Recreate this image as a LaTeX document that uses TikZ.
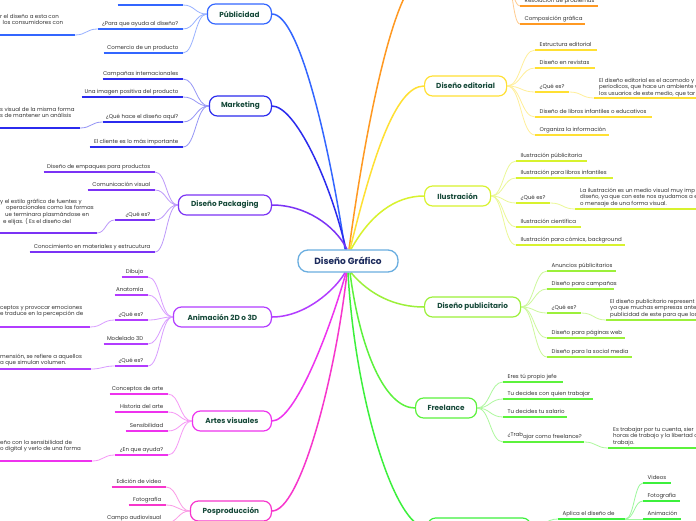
\documentclass[tikz,border=0pt]{standalone}
\usepackage{fontspec}
\setmainfont{Poppins}
\usetikzlibrary{calc,backgrounds}
\definecolor{cpub}{HTML}{3366FF}
\definecolor{cmkt}{HTML}{2B2BEE}
\definecolor{cpak}{HTML}{7B33F5}
\definecolor{cani}{HTML}{B23CFF}
\definecolor{cart}{HTML}{EE33EE}
\definecolor{cpos}{HTML}{F736CC}
\definecolor{cora}{HTML}{FF9922}
\definecolor{cedi}{HTML}{FFE033}
\definecolor{cilu}{HTML}{D8F22E}
\definecolor{cpbl}{HTML}{9CF03A}
\definecolor{cfre}{HTML}{5CF23C}
\definecolor{cbot}{HTML}{3CF03C}
\definecolor{ccen}{HTML}{6AAEE0}
\definecolor{mtxt}{HTML}{174A3A}
\definecolor{ctxt}{HTML}{1B2A5C}
\definecolor{ltxt}{HTML}{333333}
\newcommand\lffont{\fontsize{5.5}{6.5}\selectfont}
\newcommand\mnfont{\fontsize{7.3}{8}\selectfont\bfseries}
\newcommand\cnfont{\fontsize{9}{10}\selectfont\bfseries}
\newcommand\rtx[2]{\makebox[#1pt][r]{#2\hspace*{4.5pt}}}
\newcommand\ltx[2]{\makebox[#1pt][l]{\hspace*{4.5pt}#2}}
\newcommand\ltext[1]{\begin{tabular}[t]{@{}l@{}}#1\end{tabular}}
\begin{document}
\begin{tikzpicture}[x=1pt,y=-1pt,
  mn/.style={draw=#1, line width=1.2pt, fill=white, rounded corners=8pt, minimum height=20pt, inner xsep=2pt, font=\mnfont, text=mtxt},
  cn/.style={draw=ccen, line width=1.3pt, fill=white, rounded corners=10pt, minimum height=22pt, minimum width=100pt, font=\cnfont, text=ctxt},
  leaf/.style={font=\lffont, text=ltxt, inner xsep=0pt, inner ysep=2.3pt, text height=4.2pt, text depth=1.4pt,
    append after command={(\tikzlastnode.south west) edge[draw=#1, line width=2pt] (\tikzlastnode.south east)}},
  lt/.style={font=\lffont, text=ltxt, inner sep=0pt, anchor=base west},
  hc/.style={to path={let \p1=(\tikztostart), \p2=(\tikztotarget) in .. controls ({(\x1+\x2)/2},\y1) and ({(\x1+\x2)/2},\y2) .. (\tikztotarget)}},
  lk/.style={draw=#1!50!white, line width=0.8pt, hc},
  mc/.style={draw=#1, line width=1.5pt}]
\useasboundingbox (0,0) rectangle (696,520);

% central
\node[cn] (c) at (348,261) {Diseño Gráfico};

% main nodes
\node[mn=cpub, anchor=east, minimum width=64pt] (pub) at (272,14) {Públicidad};
\node[mn=cmkt, anchor=east, minimum width=62pt] (mkt) at (272,106) {Marketing};
\node[mn=cpak, anchor=east, minimum width=93pt] (pak) at (272,205) {Diseño Packaging};
\node[mn=cani, anchor=east, minimum width=98pt] (ani) at (272,317) {Animación 2D o 3D};
\node[mn=cart, anchor=east, minimum width=79pt] (art) at (272,421) {Artes visuales};
\node[mn=cpos, anchor=east, minimum width=81pt] (pos) at (272,511) {Posproducción};
\node[mn=cedi, anchor=west, minimum width=82pt] (edi) at (424,86) {Diseño editorial};
\node[mn=cilu, anchor=west, minimum width=66pt] (ilu) at (424,196) {Ilustración};
\node[mn=cpbl, anchor=west, minimum width=96pt] (pbl) at (424,307) {Diseño publicitario};
\node[mn=cfre, anchor=west, minimum width=61pt] (fre) at (415,408) {Freelance};
\node[mn=cbot, anchor=west, minimum width=103pt] (bot) at (427,528) {};
\coordinate (orw) at (424,-24);
\coordinate (ore) at (505,-24);

% Publicidad
\node[leaf=cpub, anchor=south east] (p1) at (183,5) {\rtx{65}{}};
\node[leaf=cpub, anchor=south east] (p2) at (183,29) {\rtx{85}{¿Para que ayuda al diseño?}};
\node[leaf=cpub, anchor=south east] (p2x) at (75,35) {\rtx{95}{}};
\node[lt] (p2t) at (0,18) {\ltext{r el diseño a esta con\\\hspace*{2.5pt}los consumidores con}};
\node[leaf=cpub, anchor=south east] (p3) at (183,53) {\rtx{79}{Comercio de un producto}};
% Marketing
\node[leaf=cmkt, anchor=south east] (m1) at (183,79) {\rtx{80}{Campañas internacionales}};
\node[leaf=cmkt, anchor=south east] (m2) at (183,97) {\rtx{101}{Una imagen positiva del producto}};
\node[leaf=cmkt, anchor=south east] (m3) at (183,122) {\rtx{80}{¿Qué hace el diseño aquí?}};
\node[leaf=cmkt, anchor=south east] (m3x) at (80,128) {\rtx{100}{}};
\node[lt] (m3t) at (0,111) {\ltext{s visual de la misma forma\\s de mantener un análisis}};
\node[leaf=cmkt, anchor=south east] (m4) at (183,147) {\rtx{93}{El cliente es lo más importante}};
% Packaging
\node[leaf=cpak, anchor=south east] (k1) at (155,172) {\rtx{111}{Diseño de empaques para productos}};
\node[leaf=cpak, anchor=south east] (k2) at (155,190) {\rtx{67}{Comunicación visual}};
\node[leaf=cpak, anchor=south east] (k3) at (155,220) {\rtx{40}{¿Qué es?}};
\node[leaf=cpak, anchor=south east] (k3x) at (97,233) {\rtx{117}{}};
\node[lt] (k3t) at (0,203) {\ltext{y el estilo gráfico de fuentes y\\\hspace*{6pt}operacionales como las formas\\\hspace*{5pt}ue terminara plasmándose en\\\hspace*{3pt}e elijas. ( Es el diseño del}};
\node[leaf=cpak, anchor=south east] (k4) at (155,252) {\rtx{125}{Conocimiento en materiales y estrucutura}};
% Animacion
\node[leaf=cani, anchor=south east] (a1) at (148,277) {\rtx{26}{Dibujo}};
\node[leaf=cani, anchor=south east] (a2) at (148,295) {\rtx{33}{Anatomía}};
\node[leaf=cani, anchor=south east] (a3) at (148,320) {\rtx{33}{¿Qué es?}};
\node[leaf=cani, anchor=south east] (a3x) at (90,327) {\rtx{110}{}};
\node[lt] (a3t) at (0,309) {\ltext{ceptos y provocar emociones\\e traduce en la percepción de}};
\node[leaf=cani, anchor=south east] (a4) at (148,344) {\rtx{44}{Modelado 3D}};
\node[leaf=cani, anchor=south east] (a5) at (148,366) {\rtx{33}{¿Qué es?}};
\node[leaf=cani, anchor=south east] (a5x) at (91,369) {\rtx{111}{}};
\node[lt] (a5t) at (0,358) {\ltext{mensión, se refiere a aquellos\\a que simulan volumen.}};
% Artes visuales
\node[leaf=cart, anchor=south east] (r1) at (168,394) {\rtx{58}{Conceptos de arte}};
\node[leaf=cart, anchor=south east] (r2) at (168,412) {\rtx{53}{Historia del arte}};
\node[leaf=cart, anchor=south east] (r3) at (168,431) {\rtx{42}{Sensibilidad}};
\node[leaf=cart, anchor=south east] (r4) at (168,455) {\rtx{53}{¿En que ayuda?}};
\node[leaf=cart, anchor=south east] (r4x) at (92,461) {\rtx{112}{}};
\node[lt] (r4t) at (0,444) {\ltext{eño con la sensibilidad de\\o digital y verlo de una forma}};
% Posproduccion
\node[leaf=cpos, anchor=south east] (s1) at (166,487) {\rtx{54}{Edición de video}};
\node[leaf=cpos, anchor=south east] (s2) at (166,505) {\rtx{37}{Fotografía}};
\node[leaf=cpos, anchor=south east] (s3) at (166,523) {\rtx{60}{Campo audiovisual}};

% orange
\node[leaf=cora, anchor=south west] (o1) at (520,6) {\ltx{78}{Resolución de problemas}};
\node[leaf=cora, anchor=south west] (o2) at (520,24) {\ltx{65}{Composición gráfica}};
% editorial
\node[leaf=cedi, anchor=south west] (e1) at (535,50) {\ltx{62}{Estructura editorial}};
\node[leaf=cedi, anchor=south west] (e2) at (535,68) {\ltx{60}{Diseño en revistas}};
\node[leaf=cedi, anchor=south west] (e3) at (535,92) {\ltx{34}{¿Qué es?}};
\node[leaf=cedi, anchor=south west] (e3x) at (594,98) {\ltx{126}{}};
\node[lt] (e3t) at (599,82) {\ltext{El diseño editorial es el acomodo y\\periodicos, que hace un ambiente v\\los usuarios de este medio, que tar}};
\node[leaf=cedi, anchor=south west] (e4) at (535,117) {\ltx{117}{Diseño de libros infantiles o educativos}};
\node[leaf=cedi, anchor=south west] (e5) at (535,135) {\ltx{74}{Organiza la información}};
% ilustracion
\node[leaf=cilu, anchor=south west] (i1) at (516,161) {\ltx{71}{Ilustración públicitaria}};
\node[leaf=cilu, anchor=south west] (i2) at (516,178) {\ltx{97}{Ilustración para libros infantiles}};
\node[leaf=cilu, anchor=south west] (i3) at (516,203) {\ltx{34}{¿Qué es?}};
\node[leaf=cilu, anchor=south west] (i3x) at (575,209) {\ltx{145}{}};
\node[lt] (i3t) at (580,192) {\ltext{La ilustración es un medio visual muy imp\\diseño, ya que con este nos ayudamos a e\\o mensaje de una forma visual.}};
\node[leaf=cilu, anchor=south west] (i4) at (516,227) {\ltx{65}{Ilustración científica}};
\node[leaf=cilu, anchor=south west] (i5) at (516,245) {\ltx{109}{Ilustración para cómics, background}};
% publicitario
\node[leaf=cpbl, anchor=south west] (u1) at (547,271) {\ltx{69}{Anuncios públicitarios}};
\node[leaf=cpbl, anchor=south west] (u2) at (547,289) {\ltx{67}{Diseño para campañas}};
\node[leaf=cpbl, anchor=south west] (u3) at (547,313) {\ltx{34}{¿Qué es?}};
\node[leaf=cpbl, anchor=south west] (u3x) at (606,320) {\ltx{114}{}};
\node[lt] (u3t) at (610,303) {\ltext{El diseño publicitario represent\\ya que muchas empresas antes\\publicidad de este para que los}};
\node[leaf=cpbl, anchor=south west] (u4) at (547,338) {\ltx{78}{Diseño para páginas web}};
\node[leaf=cpbl, anchor=south west] (u5) at (547,357) {\ltx{85}{Diseño para la social media}};
% freelance
\node[leaf=cfre, anchor=south west] (f1) at (503,382) {\ltx{60}{Eres tú propio jefe}};
\node[leaf=cfre, anchor=south west] (f2) at (503,399) {\ltx{90}{Tu decides con quien trabajar}};
\node[leaf=cfre, anchor=south west] (f3) at (503,417) {\ltx{64}{Tu decides tu salario}};
\node[leaf=cfre, anchor=south west] (f4) at (503,442) {\ltx{81}{\raisebox{1.5pt}{¿Trab}ajar como freelance?}};
\node[leaf=cfre, anchor=south west] (f4x) at (608,448) {\ltx{112}{}};
\node[lt] (f4t) at (613,431) {\ltext{Es trabajar por tu cuenta, sier\\horas de trabajo y la libertad c\\trabajo.}};
% bottom
\node[leaf=cbot, anchor=south west] (b1) at (558,519) {\ltx{67}{Aplica el diseño de}};
\node[leaf=cbot, anchor=south west] (b1a) at (643,483) {\ltx{28}{Videos}};
\node[leaf=cbot, anchor=south west] (b1b) at (643,501) {\ltx{37}{Fotografía}};
\node[leaf=cbot, anchor=south west] (b1c) at (643,519) {\ltx{38}{Animación}};

\begin{pgfonlayer}{background}
\fill[white] (0,0) rectangle (696,520);
% main connectors
\draw[mc=cpub] (pub.east) .. controls (300,14) and (330,150) .. ([xshift=-3pt]c.north);
\draw[mc=cmkt] (mkt.east) .. controls (295,106) and (330,180) .. ([xshift=-2pt]c.north);
\draw[mc=cpak] (pak.east) .. controls (305,205) and (335,225) .. ([xshift=-1pt]c.north);
\draw[mc=cora] ([xshift=1pt]c.north) .. controls (365,130) and (395,-24) .. (orw);
\draw[mc=cedi] ([xshift=2pt]c.north) .. controls (372,160) and (395,86) .. (edi.west);
\draw[mc=cilu] ([xshift=3pt]c.north) .. controls (370,215) and (395,196) .. (ilu.west);
\draw[mc=cani] (ani.east) .. controls (305,317) and (335,290) .. ([xshift=-3pt]c.south);
\draw[mc=cart] (art.east) .. controls (295,421) and (330,330) .. ([xshift=-2pt]c.south);
\draw[mc=cpos] (pos.east) .. controls (300,511) and (335,380) .. ([xshift=-1pt]c.south);
\draw[mc=cbot] (c.south) .. controls (355,400) and (395,528) .. (bot.west);
\draw[mc=cfre] ([xshift=2pt]c.south) .. controls (360,350) and (385,408) .. (fre.west);
\draw[mc=cpbl] ([xshift=3pt]c.south) .. controls (370,295) and (395,307) .. (pbl.west);
% leaf connectors left
\foreach \l in {p1,p2,p3} \draw[lk=cpub] (pub.west) to (\l.south east);
\draw[lk=cpub] (p2.south west) to (p2x.south east);
\foreach \l in {m1,m2,m3,m4} \draw[lk=cmkt] (mkt.west) to (\l.south east);
\draw[lk=cmkt] (m3.south west) to (m3x.south east);
\foreach \l in {k1,k2,k3,k4} \draw[lk=cpak] (pak.west) to (\l.south east);
\draw[lk=cpak] (k3.south west) to (k3x.south east);
\foreach \l in {a1,a2,a3,a4,a5} \draw[lk=cani] (ani.west) to (\l.south east);
\draw[lk=cani] (a3.south west) to (a3x.south east);
\draw[lk=cani] (a5.south west) to (a5x.south east);
\foreach \l in {r1,r2,r3,r4} \draw[lk=cart] (art.west) to (\l.south east);
\draw[lk=cart] (r4.south west) to (r4x.south east);
\foreach \l in {s1,s2,s3} \draw[lk=cpos] (pos.west) to (\l.south east);
% leaf connectors right
\foreach \l in {o1,o2} \draw[lk=cora] (ore) to (\l.south west);
\foreach \l in {e1,e2,e3,e4,e5} \draw[lk=cedi] (edi.east) to (\l.south west);
\draw[lk=cedi] (e3.south east) to (e3x.south west);
\foreach \l in {i1,i2,i3,i4,i5} \draw[lk=cilu] (ilu.east) to (\l.south west);
\draw[lk=cilu] (i3.south east) to (i3x.south west);
\foreach \l in {u1,u2,u3,u4,u5} \draw[lk=cpbl] (pbl.east) to (\l.south west);
\draw[lk=cpbl] (u3.south east) to (u3x.south west);
\foreach \l in {f1,f2,f3,f4} \draw[lk=cfre] (fre.east) to (\l.south west);
\draw[lk=cfre] (f4.south east) to (f4x.south west);
\draw[lk=cbot] (bot.east) to (b1.south west);
\foreach \l in {b1a,b1b,b1c} \draw[lk=cbot] (b1.south east) to (\l.south west);
\end{pgfonlayer}
\end{tikzpicture}
\end{document}
